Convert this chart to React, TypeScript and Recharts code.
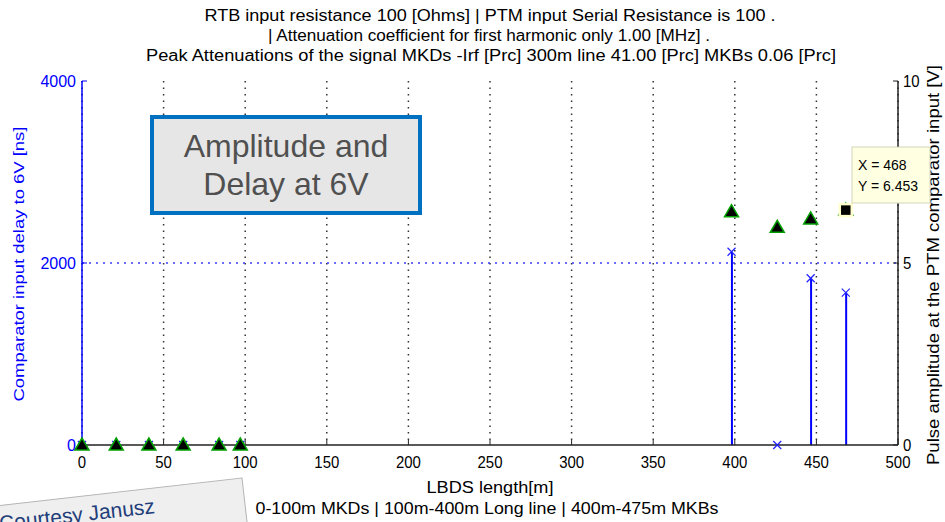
import { ComposedChart, Bar, Scatter, XAxis, YAxis, CartesianGrid, ReferenceLine } from 'recharts'

// LBDS length [m] of each measured point
const lengths = [0, 21, 41, 62, 84, 97, 398, 426, 446.5, 468]
// comparator delay to 6V [ns] (left axis, stems)
const delayNs = [0, 0, 0, 0, 0, 0, 2124, 0, 1832, 1674]
// pulse amplitude at PTM comparator input [V] (right axis, triangles)
const amplitudeV = [0, 0, 0, 0, 0, 0, 6.41, 5.98, 6.21, 6.453]

const xTicks = [0, 50, 100, 150, 200, 250, 300, 350, 400, 450, 500]
const gridTicks = [50, 100, 150, 200, 250, 300, 350, 400, 450]
const delayTicks = [0, 2000, 4000]
const ampTicks = [0, 5, 10]

const tipX = 468
const tipY = 6.453

const titleLines = [
  'RTB input resistance 100 [Ohms] | PTM input Serial Resistance is 100 .',
  '| Attenuation coefficient for first harmonic only 1.00 [MHz] .',
  'Peak Attenuations of the signal MKDs -Irf [Prc] 300m line 41.00 [Prc] MKBs 0.06 [Prc]',
]

const rows = lengths.map((x, i) => ({ x, delay: delayNs[i], amp: amplitudeV[i] }))
const tipRows = [{ x: tipX, amp: tipY }]

const SANS = "'Liberation Sans', Arial, sans-serif"

// matlab-ish narrow tick labels
const BottomTick = ({ x, y, payload }: any) => (
  <g transform={`translate(${x},${y})`}>
    <text transform="scale(0.88,1)" textAnchor="middle" dy="0.71em" fontSize={17}
      fontFamily={SANS} fill="#000">{payload.value}</text>
  </g>
)

const RightTick = ({ x, y, payload }: any) => (
  <g transform={`translate(${x},${y})`}>
    <text transform="scale(0.88,1)" textAnchor="start" dy="0.355em" fontSize={17}
      fontFamily={SANS} fill="#000">{payload.value}</text>
  </g>
)

const Triangle = (p: any) => (
  <polygon
    points={`${p.cx},${p.cy - 7} ${p.cx - 7},${p.cy + 5} ${p.cx + 7},${p.cy + 5}`}
    fill="#000" stroke="#00a000" strokeWidth={1.5} />
)

const XMark = (p: any) => (
  <g stroke="#2020ff" strokeWidth={1.2}>
    <line x1={p.cx - 4} y1={p.cy - 4} x2={p.cx + 4} y2={p.cy + 4} />
    <line x1={p.cx - 4} y1={p.cy + 4} x2={p.cx + 4} y2={p.cy - 4} />
  </g>
)

const TipSquare = (p: any) => (
  <rect x={p.cx - 6} y={p.cy - 6} width={12} height={12} fill="#000" stroke="#ffffd0" strokeWidth={2.5} />
)

export default function App() {
  return (
    <div style={{ position: 'absolute', left: 0, top: 0, width: 945, height: 522, background: '#fff' }}>
      <ComposedChart width={945} height={522} data={rows}
        margin={{ top: 81, right: 7, bottom: 47, left: 22 }}>
        <XAxis xAxisId="grid" dataKey="x" type="number" domain={[0, 500]} ticks={gridTicks} hide />
        <CartesianGrid xAxisId="grid" yAxisId="left" horizontal={false} stroke="#333"
          strokeWidth={1.5} strokeDasharray="1.5 5" />
        <XAxis dataKey="x" type="number" domain={[0, 500]} ticks={xTicks} height={30}
          axisLine={{ stroke: '#222', strokeWidth: 1.5 }} tickLine={{ stroke: '#222' }}
          tickSize={-5} tickMargin={16} tick={<BottomTick />} />
        <XAxis xAxisId="top" orientation="top" dataKey="x" type="number" domain={[0, 500]}
          ticks={xTicks} height={0} stroke="#222" tickSize={-5} tickFormatter={() => ''} />
        <YAxis yAxisId="left" type="number" domain={[0, 4000]} ticks={delayTicks} width={60}
          axisLine={{ stroke: '#0000ff', strokeWidth: 1.5 }} tickLine={{ stroke: '#0000ff' }}
          tickSize={-5} tickMargin={11}
          tick={{ fill: '#0000ff', fontSize: 16, fontFamily: SANS }} />
        <YAxis yAxisId="right" orientation="right" type="number" domain={[0, 10]} ticks={ampTicks}
          width={40} axisLine={{ stroke: '#222', strokeWidth: 1.5 }} tickLine={{ stroke: '#222' }}
          tickSize={-5} tickMargin={10} tick={<RightTick />} />
        <ReferenceLine yAxisId="left" y={2000} stroke="#3c3cff" strokeWidth={1.5} strokeDasharray="2 5" />
        <Bar yAxisId="left" dataKey="delay" barSize={2} fill="#0000ff" isAnimationActive={false} />
        <Scatter yAxisId="left" dataKey="delay" shape={XMark} isAnimationActive={false} />
        <Scatter yAxisId="right" dataKey="amp" shape={Triangle} isAnimationActive={false} />
        <Scatter yAxisId="right" data={tipRows} dataKey="amp" shape={TipSquare} isAnimationActive={false} />
      </ComposedChart>

      <svg width={945} height={522} style={{ position: 'absolute', left: 0, top: 0, pointerEvents: 'none' }}>
        <g fontFamily={SANS} fontSize={16} fill="#000" textAnchor="middle">
          <text x={490} y={21} textLength={571} lengthAdjust="spacingAndGlyphs">{titleLines[0]}</text>
          <text x={489} y={41} textLength={442} lengthAdjust="spacingAndGlyphs">{titleLines[1]}</text>
          <text x={491} y={61} textLength={690} lengthAdjust="spacingAndGlyphs">{titleLines[2]}</text>
          <text x={490} y={493} textLength={127} lengthAdjust="spacingAndGlyphs">LBDS length[m]</text>
          <text x={487} y={514} textLength={463} lengthAdjust="spacingAndGlyphs">
            0-100m MKDs | 100m-400m Long line | 400m-475m MKBs
          </text>
        </g>
        <text transform="translate(24 264) rotate(-90)" textAnchor="middle" fontFamily={SANS}
          fontSize={15} fill="#0000ff" textLength={275} lengthAdjust="spacingAndGlyphs">
          Comparator input delay to 6V [ns]
        </text>
        <text transform="translate(939 265) rotate(-90)" textAnchor="middle" fontFamily={SANS}
          fontSize={16} fill="#000" textLength={400} lengthAdjust="spacingAndGlyphs">
          Pulse amplitude at the PTM comparator input [V]
        </text>

        <rect x={152} y={117} width={268} height={96} fill="#e6e6e6" stroke="#0070c0" strokeWidth={4} />
        <g fontFamily={SANS} fontSize={32} fill="#505050" textAnchor="middle">
          <text x={286} y={157}>Amplitude and</text>
          <text x={286} y={195}>Delay at 6V</text>
        </g>

        <rect x={852} y={147} width={78} height={56} fill="#ffffe1" stroke="#d4d4bc" />
        <g fontFamily={SANS} fontSize={14} fill="#000">
          <text x={858} y={170}>X = {tipX}</text>
          <text x={858} y={191}>Y = {tipY}</text>
        </g>

        <g transform="rotate(-6.5 242 478)">
          <rect x={-80} y={478} width={322} height={110} fill="#efefef" stroke="#b4b4b4" />
          <text x={152} y={503} textAnchor="end" fontFamily={SANS} fontSize={21} fill="#1f3e7a">
            Courtesy Janusz
          </text>
        </g>
      </svg>
    </div>
  )
}
